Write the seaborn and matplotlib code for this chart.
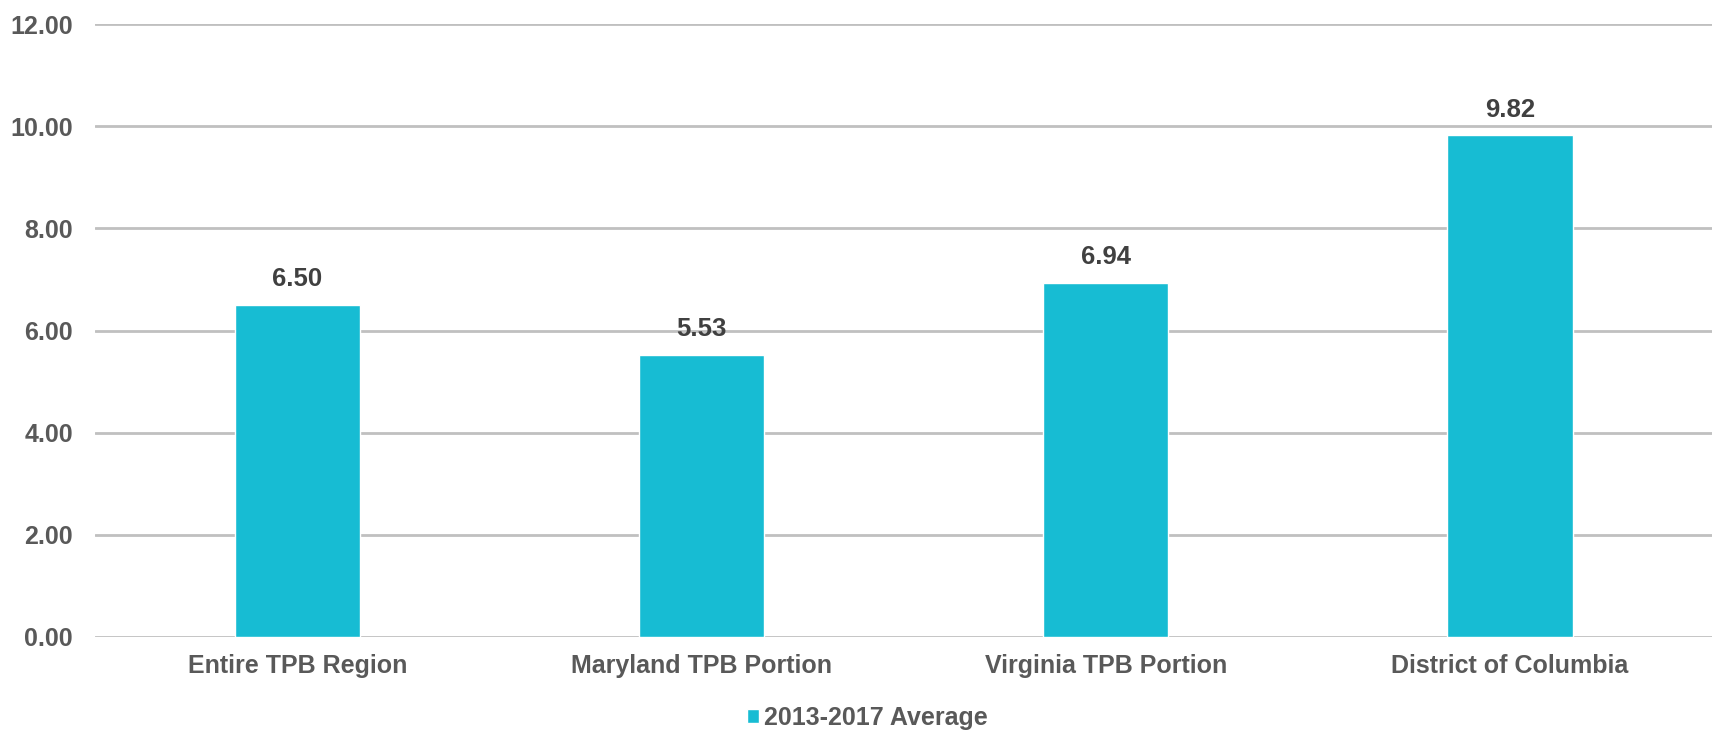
import pandas as pd
import matplotlib
matplotlib.use('Agg')
import matplotlib.pyplot as plt
import seaborn as sns

# Data
regions = ['Entire TPB Region', 'Maryland TPB Portion', 'Virginia TPB Portion', 'District of Columbia']
values = [6.50, 5.53, 6.94, 9.82]
series_name = '2013-2017 Average'
y_ticks = [0, 2, 4, 6, 8, 10, 12]

df = pd.DataFrame({'region': regions, 'value': values, 'series': series_name})

sns.set_style('white')
plt.rcParams['font.family'] = ['Liberation Sans', 'DejaVu Sans']

fig = plt.figure(figsize=(17.19, 7.31), dpi=100)
ax = fig.add_axes([0.0553, 0.1286, 0.9407, 0.8384])

sns.barplot(data=df, x='region', y='value', hue='series', palette=['#17BCD3'],
            saturation=1, width=0.31, dodge=False, ax=ax, zorder=3)

# value labels above bars
for c in ax.containers:
    ax.bar_label(c, labels=[f'{v:.2f}' for v in values], padding=10,
                 fontsize=18.5, fontweight='bold', color='#404040')

ax.set_ylim(0, 12)
ax.set_yticks(y_ticks)
ax.set_yticklabels([f'{t:.2f}' for t in y_ticks])
ax.yaxis.grid(True, color='#C0C0C0', linewidth=2, zorder=0)
ax.set_axisbelow(True)
ax.set_xlabel('')
ax.set_ylabel('')
for s in ax.spines.values():
    s.set_visible(False)
ax.tick_params(axis='y', length=0, pad=16, labelsize=18, labelcolor='#595959')
ax.tick_params(axis='x', length=0, pad=12, labelsize=18, labelcolor='#595959')
for lbl in ax.get_xticklabels() + ax.get_yticklabels():
    lbl.set_fontweight('bold')

ax.legend_.remove()
handles, labels = ax.get_legend_handles_labels()
leg = fig.legend(handles, labels, loc='center', bbox_to_anchor=(0.5045, 0.018),
                 frameon=False, handlelength=0.5, handleheight=0.5, handletextpad=0.2,
                 prop={'size': 18, 'weight': 'bold'})
for t in leg.get_texts():
    t.set_color('#595959')

plt.savefig('out.png', dpi=100)
